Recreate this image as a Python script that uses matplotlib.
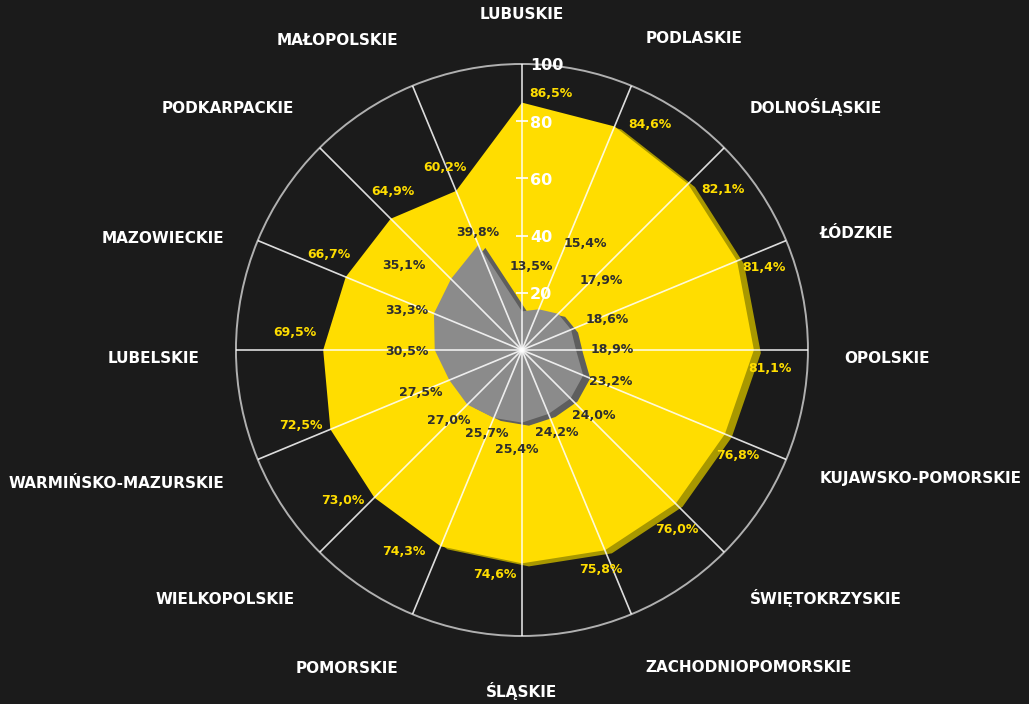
import numpy as np
import matplotlib
matplotlib.use("Agg")
import matplotlib.pyplot as plt
import matplotlib.patheffects as pe

regions = ["LUBUSKIE", "PODLASKIE", "DOLNOŚLĄSKIE", "ŁÓDZKIE", "OPOLSKIE",
           "KUJAWSKO-POMORSKIE", "ŚWIĘTOKRZYSKIE", "ZACHODNIOPOMORSKIE",
           "ŚLĄSKIE", "POMORSKIE", "WIELKOPOLSKIE", "WARMIŃSKO-MAZURSKIE",
           "LUBELSKIE", "MAZOWIECKIE", "PODKARPACKIE", "MAŁOPOLSKIE"]
yes_share = [86.5, 84.6, 82.1, 81.4, 81.1, 76.8, 76.0, 75.8,
             74.6, 74.3, 73.0, 72.5, 69.5, 66.7, 64.9, 60.2]
no_share = [13.5, 15.4, 17.9, 18.6, 18.9, 23.2, 24.0, 24.2,
            25.4, 25.7, 27.0, 27.5, 30.5, 33.3, 35.1, 39.8]
r_ticks = [20, 40, 60, 80, 100]

# label layout for the grey series (extra radius, angle nudge in degrees)
grey_extra_r = [16, 28, 19, 13, 12.5, 9.6, 10, 7, 9.5, 6, 8.7, 11, 9.6, 9.4, 15.6, 4]
grey_dtheta = [6, 8, 4, 3, 0, -3, -2.5, -0.4, 2.9, 0.1, 1.2, -0.4, -1, -3.5, -9.2, 2]
# small nudges (pixels, x right / y down) for yellow labels and region names
yellow_nx = [0, 0, 0, -4, -5, 5, 7, 15, 2, -2, 4, 1, -7, -9, -3, -30]
yellow_ny = [0, 0, 0, -6, 1, 1, 6, 4, 2, 3, 9, 9, 1, -2, -8, -8]
name_ny = [3, 0, -8, 6, 1, -8, 5, 4, 3, 5, 7, -3, 1, 11, -6, 2]

BG = "#1b1b1b"
YELLOW = "#ffdd00"
YELLOW_SH = "#a89800"
GREY = "#8b8b8b"
GREY_SH = "#5e5e5e"
DARK = "#2e2e2e"

plt.rcParams["font.family"] = ["DejaVu Sans"]

fig = plt.figure(figsize=(10.29, 7.04), dpi=100, facecolor=BG)
ax = fig.add_axes([0.2293, 0.0966, 0.5559, 0.8125], projection="polar")
ax.set_facecolor(BG)
ax.set_theta_zero_location("N")
ax.set_theta_direction(-1)
ax.set_ylim(0, 100)
ax.grid(False)
ax.set_xticks([])
ax.set_yticks([])
ax.spines["polar"].set_color("#b0b0b0")
ax.spines["polar"].set_linewidth(1.4)

n = len(regions)
theta = np.arange(n) * 2 * np.pi / n
tc = np.append(theta, theta[0])

ax.fill(tc, yes_share + yes_share[:1], color=YELLOW, lw=0, zorder=2,
        path_effects=[pe.SimplePatchShadow(offset=(5, -2.2), shadow_rgbFace=YELLOW_SH, alpha=1), pe.Normal()])
ax.fill(tc, no_share + no_share[:1], color=GREY, lw=0, zorder=3,
        path_effects=[pe.SimplePatchShadow(offset=(5, -2.2), shadow_rgbFace=GREY_SH, alpha=1), pe.Normal()])

# spokes over the areas
for t in theta:
    ax.plot([t, t], [0, 100], color="white", lw=1.2, alpha=0.85, zorder=4)

# radial scale on the top spoke
for r in r_ticks:
    if r < 100:
        ax.plot(0, r, marker="_", ms=9, mew=1.2, color="white", alpha=0.85, zorder=4)
    ax.annotate(str(r), (0, r), xytext=(8, -2), textcoords="offset pixels",
                ha="left", va="center", color="white", fontsize=11.5,
                fontweight="bold", zorder=6)

# value labels
for i, t in enumerate(theta):
    s, c = np.sin(t), np.cos(t)
    dx = 29 * c + 21 * s + yellow_nx[i]
    dy = 9.5 * c - 18 * s - yellow_ny[i]
    ax.annotate(f"{yes_share[i]:.1f}%".replace(".", ","), (t, yes_share[i]),
                xytext=(dx, dy), textcoords="offset pixels", ha="center", va="center",
                color=YELLOW, fontsize=9, fontweight="bold", zorder=6)
    tg = t + np.deg2rad(grey_dtheta[i])
    ax.text(tg, no_share[i] + grey_extra_r[i], f"{no_share[i]:.1f}%".replace(".", ","),
            ha="center", va="center", color=DARK, fontsize=9, fontweight="bold", zorder=6)

# category labels, placed around the centre in pixels
for i, t in enumerate(theta):
    s, c = np.sin(t), np.cos(t)
    if s > 0.01:
        ha = "left"
    elif s < -0.01:
        ha = "right"
    else:
        ha = "center"
    ax.annotate(regions[i], (0, 0), xytext=(322 * s, 338 * c - 8 * s * s - name_ny[i]),
                textcoords="offset pixels", ha=ha, va="center", color="white",
                fontsize=11, fontweight="bold", annotation_clip=False, zorder=6)

fig.savefig("out.png", dpi=100, facecolor=BG)
